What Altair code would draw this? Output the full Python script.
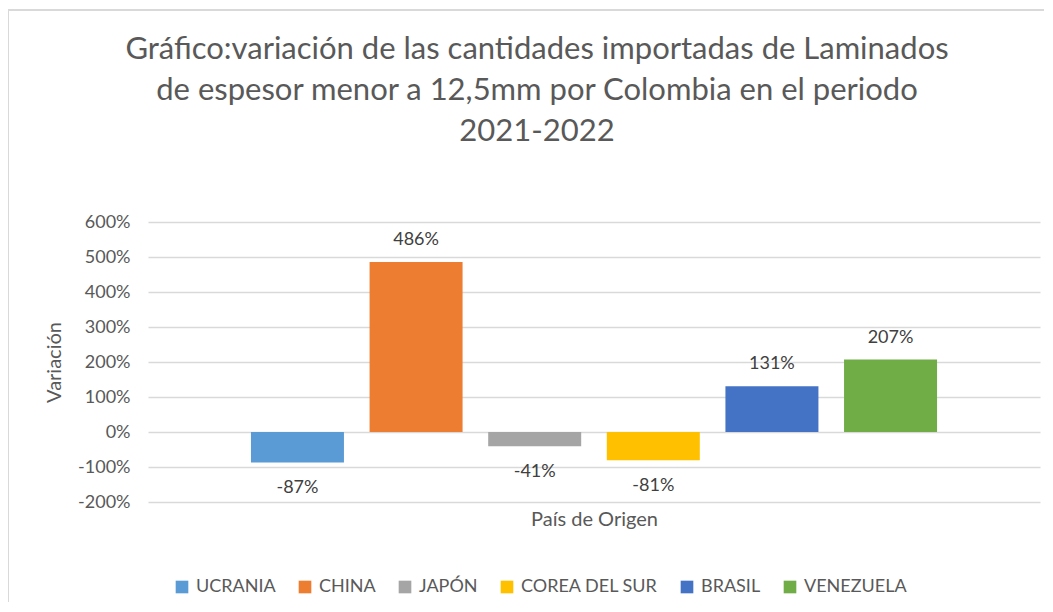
import altair as alt
import pandas as pd

paises = ["UCRANIA", "CHINA", "JAPÓN", "COREA DEL SUR", "BRASIL", "VENEZUELA"]
variacion = [-0.87, 4.86, -0.41, -0.81, 1.31, 2.07]
colores = ["#5B9BD5", "#ED7D31", "#A5A5A5", "#FFC000", "#4472C4", "#70AD47"]
y_ticks = [-2, -1, 0, 1, 2, 3, 4, 5, 6]
titulo = [
    "Gráfico:variación de las cantidades importadas de Laminados",
    "de espesor  menor a 12,5mm por Colombia en el periodo",
    "2021-2022",
]

df = pd.DataFrame({"pais": paises, "var": variacion})

FONT = "Lato"
GRAY = "#595959"
MINUS_FIX = "replace(format(datum.var, '.0%'), '\u2212', '-')"

x = alt.X(
    "pais:N",
    sort=paises,
    scale=alt.Scale(paddingInner=0.216, paddingOuter=0.868),
    axis=alt.Axis(labels=False, ticks=False, domain=False, title="País de Origen",
                  titleFont=FONT, titleFontSize=20, titleFontWeight="normal",
                  titleColor=GRAY, titlePadding=7),
)
y = alt.Y(
    "var:Q",
    scale=alt.Scale(domain=[-2, 6], nice=False),
    axis=alt.Axis(values=y_ticks, format=".0%", title="Variación", ticks=False,
                  labelExpr="replace(datum.label, '\u2212', '-')",
                  labelOverlap=False, tickCount=9,
                  domain=False, gridColor="#D9D9D9", gridWidth=1.5,
                  labelFont=FONT, labelFontSize=18, labelColor=GRAY, labelPadding=18,
                  titleFont=FONT, titleFontSize=20, titleFontWeight="normal",
                  titleColor=GRAY, titlePadding=13),
)

bars = alt.Chart(df).mark_bar().encode(
    x=x,
    y=y,
    color=alt.Color(
        "pais:N",
        sort=paises,
        scale=alt.Scale(domain=paises, range=colores),
        legend=alt.Legend(
            title=None, orient="none", direction="horizontal", columns=6,
            legendX=25, legendY=356, symbolType="square", symbolSize=160,
            symbolStrokeWidth=0, labelFont=FONT, labelFontSize=18,
            labelColor=GRAY, columnPadding=20, labelOffset=5,
        ),
    ),
)

pos_labels = alt.Chart(df).transform_filter(alt.datum["var"] >= 0).transform_calculate(
    lab=MINUS_FIX
).mark_text(
    font=FONT, fontSize=18, color="#404040", baseline="middle", dy=-22
).encode(x=x, y=y, text="lab:N")

neg_labels = alt.Chart(df).transform_filter(alt.datum["var"] < 0).transform_calculate(
    lab=MINUS_FIX
).mark_text(
    font=FONT, fontSize=18, color="#404040", baseline="middle", dy=26
).encode(x=x, y=y, text="lab:N")

border = alt.Chart(df).mark_rect(fill=None, stroke="#D9D9D9", strokeWidth=2).encode(
    x=alt.value(-140), x2=alt.value(1000), y=alt.value(-212), y2=alt.value(500)
).transform_filter(alt.datum.pais == "CHINA")

chart = alt.layer(border, bars, pos_labels, neg_labels).properties(
    width=892,
    height=280,
    autosize=alt.AutoSizeParams(type="none"),
    padding={"left": 140, "top": 214, "right": 4, "bottom": 100},
    title=alt.TitleParams(
        text=titulo, font=FONT, fontSize=31, fontWeight="normal", color=GRAY,
        anchor="middle", dx=-57, offset=-139, lineHeight=41, frame="group",
    ),
).configure_view(stroke=None)

chart.save("out.html", embed_options={"renderer": "svg", "actions": False})
